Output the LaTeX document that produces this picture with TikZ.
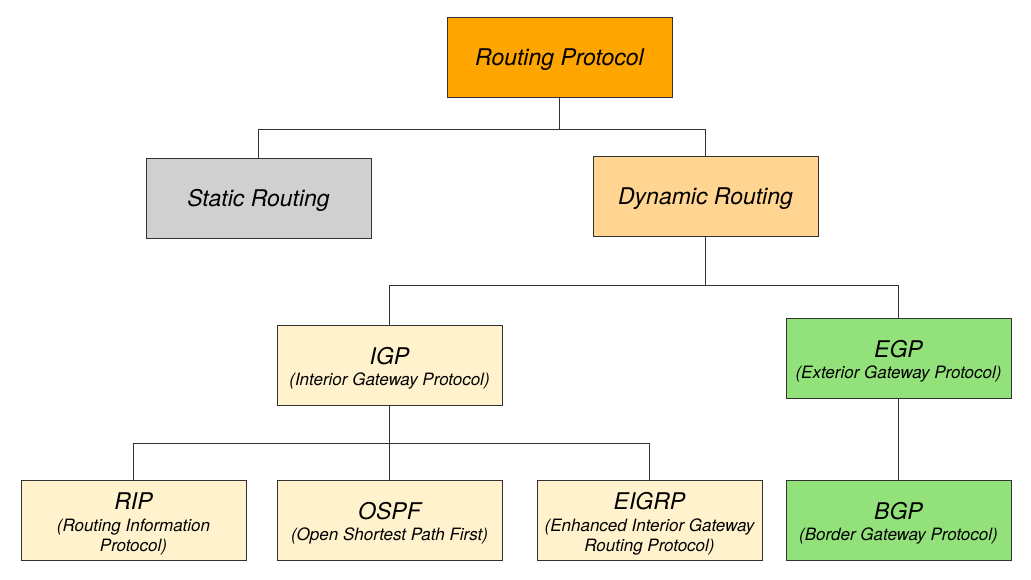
\documentclass[tikz,border=0pt]{standalone}
\usepackage{fontspec}
\setmainfont{TeX Gyre Heros}
\definecolor{cRoot}{HTML}{FFA500}
\definecolor{cStatic}{HTML}{D0D0D0}
\definecolor{cDyn}{HTML}{FFD591}
\definecolor{cYel}{HTML}{FFF2CC}
\definecolor{cGrn}{HTML}{92E17A}
\definecolor{cLine}{HTML}{333333}
\newcommand{\bigf}{\fontsize{23}{23}\selectfont}
\newcommand{\onel}[1]{\raisebox{0pt}[\height][0pt]{\bigf #1}}
\newcommand{\topl}[1]{{\bigf\rule{0pt}{24.5pt}#1}}
\tikzset{
  box/.style={draw=cLine, line width=0.9pt, minimum width=225pt, minimum height=80pt,
    inner sep=0pt, align=center, font=\fontsize{17}{20}\selectfont\itshape},
  link/.style={draw=cLine, line width=0.9pt},
}
\begin{document}
\begin{tikzpicture}[x=1pt,y=-1pt]
\useasboundingbox (0,0) rectangle (1031,579);
\node[box, fill=cRoot] (rp) at (559.5,57) {\onel{Routing Protocol}};
\node[box, fill=cStatic] (st) at (258.5,198) {\onel{Static Routing}};
\node[box, fill=cDyn] (dy) at (705.5,196) {\onel{Dynamic Routing}};
\node[box, fill=cYel] (igp) at (389.5,365) {\topl{IGP}\\[1pt](Interior Gateway Protocol)};
\node[box, fill=cGrn] (egp) at (898.5,358) {\topl{EGP}\\[1pt](Exterior Gateway Protocol)};
\node[box, fill=cYel] (rip) at (133.5,520) {\topl{RIP}\\[2pt](Routing Information\\Protocol)};
\node[box, fill=cYel] (ospf) at (389.5,520) {\topl{OSPF}\\[1pt](Open Shortest Path First)};
\node[box, fill=cYel] (eigrp) at (649.5,520) {\topl{EIGRP}\\[2pt](Enhanced Interior Gateway\\Routing Protocol)};
\node[box, fill=cGrn] (bgp) at (898.5,520) {\topl{BGP}\\[1pt](Border Gateway Protocol)};
\coordinate (b1) at (559.5,129);
\coordinate (b2) at (705.5,285);
\coordinate (b3) at (389.5,443);
\draw[link] (rp.south) -- (b1);
\draw[link] (b1) -| (st.north);
\draw[link] (b1) -| (dy.north);
\draw[link] (dy.south) -- (b2);
\draw[link] (b2) -| (igp.north);
\draw[link] (b2) -| (egp.north);
\draw[link] (igp.south) -- (b3);
\draw[link] (b3) -| (rip.north);
\draw[link] (b3) -- (ospf.north);
\draw[link] (b3) -| (eigrp.north);
\draw[link] (egp.south) -- (bgp.north);
\end{tikzpicture}
\end{document}
